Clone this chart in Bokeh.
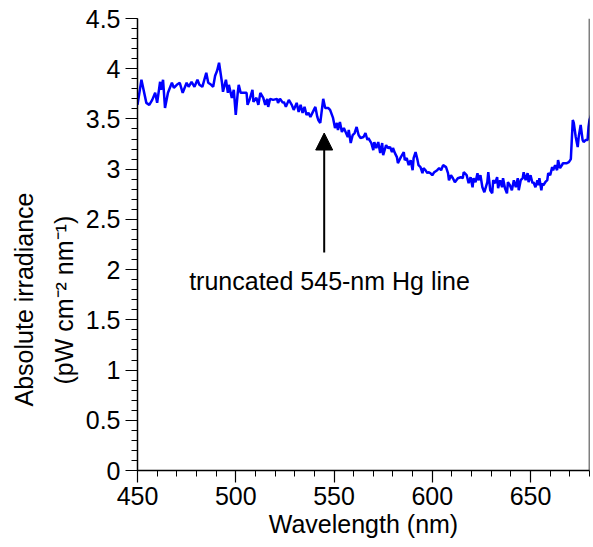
from bokeh.plotting import figure
from bokeh.models import Range1d, Span, Arrow, NormalHead, Label, Title, FixedTicker, ColumnDataSource
from bokeh.embed import file_html
from bokeh.resources import INLINE

# ---- data ----
wavelength = [
    450, 452, 454.5, 456, 457.5, 459, 460, 461.5, 462, 463,
    464, 465.5, 467.5, 468.5, 470, 471.5, 473, 475, 476, 477.5,
    479, 480.5, 481.5, 483, 485, 486, 487.5, 488.5, 489.5, 490.5,
    491.5, 493, 493.5, 495, 496, 496.5, 498, 499, 500, 501,
    501.5, 502.5, 504, 505.5, 506, 507, 508.5, 509, 510.5, 511.5,
    512.5, 514, 515, 516, 516.5, 517.5, 519, 521, 521.5, 522.5,
    524, 524.5, 525.5, 527, 528.5, 529.5, 531, 532, 533, 534,
    535, 536, 537, 538, 539, 540.5, 541.5, 542, 543, 544,
    544.5, 545.5, 547, 548, 549.5, 550.5, 551.5, 552, 553, 554,
    555, 557, 557.5, 558.5, 559.5, 560.5, 561.5, 562.5, 563.5, 565,
    566, 567, 567.5, 569, 570, 570.5, 571.5, 572.5, 573.5, 574.5,
    575, 576.5, 577.5, 578.5, 579.5, 580, 581, 582, 582.5, 584,
    585.5, 586, 587, 588, 589, 590, 590.5, 591.5, 592.5, 593,
    594, 595, 595.5, 596.5, 597.5, 598, 599, 600, 601, 602.5,
    603.5, 604.5, 605.5, 607, 608, 608.5, 609.5, 610.5, 611.5, 613,
    614.5, 615.5, 616, 617.5, 618.5, 619.5, 620.5, 621, 622, 623,
    623.5, 624.5, 625.5, 626.5, 628, 628.5, 629.5, 630.5, 631, 632,
    633, 633.5, 634.5, 635.5, 636, 637, 638, 638.5, 639.5, 640.5,
    641.5, 642.5, 643.5, 644, 645, 646, 646.5, 647.5, 648.5, 649,
    650, 651, 651.5, 652.5, 653.5, 654, 654.5, 655.5, 656, 656.5,
    657.5, 658.5, 659, 660, 661, 661.5, 662.5, 663.5, 664, 665,
    666, 666.5, 668.5, 669.5, 670.5, 671.5, 672, 673, 674, 674.5,
    675.5, 676.5, 677, 678, 679, 679.5, 680, 681,
]
irradiance = [
    3.64, 3.89, 3.66, 3.64, 3.69, 3.76, 3.66, 3.87, 3.79, 3.89,
    3.61, 3.76, 3.86, 3.81, 3.84, 3.86, 3.76, 3.86, 3.82, 3.87,
    3.82, 3.89, 3.84, 3.82, 3.96, 3.86, 3.84, 3.82, 3.93, 3.98,
    4.06, 3.86, 3.77, 3.89, 3.76, 3.84, 3.71, 3.79, 3.54, 3.76,
    3.84, 3.76, 3.76, 3.76, 3.64, 3.69, 3.79, 3.67, 3.71, 3.64,
    3.76, 3.71, 3.64, 3.70, 3.62, 3.70, 3.69, 3.70, 3.66, 3.70,
    3.66, 3.67, 3.62, 3.69, 3.64, 3.59, 3.66, 3.57, 3.64, 3.56,
    3.62, 3.54, 3.56, 3.52, 3.56, 3.62, 3.52, 3.49, 3.46, 3.62,
    3.70, 3.61, 3.61, 3.59, 3.51, 3.41, 3.46, 3.39, 3.47, 3.37,
    3.41, 3.32, 3.39, 3.26, 3.34, 3.36, 3.42, 3.34, 3.31, 3.32,
    3.36, 3.29, 3.31, 3.26, 3.19, 3.27, 3.21, 3.27, 3.16, 3.26,
    3.14, 3.24, 3.21, 3.22, 3.17, 3.21, 3.16, 3.12, 3.06, 3.12,
    3.17, 3.09, 3.11, 3.04, 3.09, 2.99, 3.11, 3.17, 3.09, 3.04,
    3.02, 2.96, 3.01, 2.99, 2.96, 2.97, 2.96, 2.94, 2.97, 2.99,
    3.01, 2.99, 3.04, 3.02, 2.96, 2.89, 2.94, 2.91, 2.87, 2.91,
    2.92, 2.91, 2.97, 2.94, 2.86, 2.92, 2.82, 2.91, 2.87, 2.96,
    2.89, 2.94, 2.82, 2.77, 2.87, 2.97, 2.79, 2.76, 2.89, 2.86,
    2.92, 2.81, 2.89, 2.82, 2.91, 2.81, 2.76, 2.87, 2.84, 2.79,
    2.89, 2.82, 2.91, 2.79, 2.89, 2.91, 2.97, 2.89, 2.96, 2.87,
    2.94, 2.86, 2.87, 2.82, 2.89, 2.84, 2.91, 2.79, 2.86, 2.84,
    2.87, 2.89, 2.96, 2.94, 3.02, 2.99, 3.04, 2.99, 3.09, 3.01,
    3.04, 3.06, 3.06, 3.07, 3.10, 3.49, 3.46, 3.32, 3.22, 3.32,
    3.44, 3.29, 3.27, 3.29, 3.29, 3.42, 3.49, 3.55,
]
x_ticks = [450, 500, 550, 600, 650]
y_ticks = [0, 0.5, 1, 1.5, 2, 2.5, 3, 3.5, 4, 4.5]
y_tick_labels = ["0", "0.5", "1", "1.5", "2", "2.5", "3", "3.5", "4", "4.5"]
hg_line_nm = 545
arrow_from, arrow_to = 2.17, 3.36
note_text = "truncated 545-nm Hg line"

FONT = "Liberation Sans"
FS = "25px"

p = figure(frame_width=452, frame_height=452, output_backend="svg", toolbar_location=None,
           x_range=Range1d(450, 680), y_range=Range1d(0, 4.5),
           min_border_left=137, min_border_right=3, min_border_top=18, min_border_bottom=75,
           background_fill_color="white", border_fill_color="white")
p.outline_line_color = None
p.grid.visible = False

src = ColumnDataSource(dict(x=wavelength, y=irradiance))
p.line("x", "y", source=src, line_color="#0000ff", line_width=2.5)

for ax in (p.xaxis[0], p.yaxis[0]):
    ax.axis_line_color = "black"
    ax.axis_line_width = 1.5
    ax.major_tick_line_color = "black"
    ax.minor_tick_line_color = "black"
    ax.major_tick_line_width = 1.2
    ax.minor_tick_line_width = 1
    ax.major_tick_in = 0
    ax.major_tick_out = 12
    ax.minor_tick_in = 0
    ax.minor_tick_out = 6
    ax.major_label_text_font = FONT
    ax.major_label_text_font_size = FS
    ax.major_label_text_color = "black"
    ax.axis_label_text_font = FONT
    ax.axis_label_text_font_size = FS
    ax.axis_label_text_font_style = "normal"
    ax.axis_label_text_color = "black"

p.xaxis.ticker = FixedTicker(ticks=x_ticks, minor_ticks=list(range(450, 681, 10)))
p.yaxis.ticker = FixedTicker(ticks=y_ticks, minor_ticks=[i / 10 for i in range(0, 46)])
p.yaxis.major_label_overrides = {t: s for t, s in zip(y_ticks, y_tick_labels)}
p.xaxis.axis_label = "Wavelength (nm)"
p.xaxis.major_label_standoff = 4
p.xaxis.axis_label_standoff = 2
p.yaxis.major_label_standoff = 5

p.add_layout(Title(text="(pW cm\u207b\u00b2 nm\u207b\u00b9)", align="left", offset=86, text_font=FONT,
                   text_font_size=FS, text_font_style="normal", text_color="black"), "left")
p.add_layout(Title(text="Absolute irradiance", align="left", offset=64, text_font=FONT,
                   text_font_size=FS, text_font_style="normal", text_color="black"), "left")

p.add_layout(Span(location=680, dimension="height", line_color="black", line_width=1.5))

p.add_layout(Arrow(end=NormalHead(size=17, fill_color="black", line_color="black"),
                   x_start=hg_line_nm, y_start=arrow_from, x_end=hg_line_nm, y_end=arrow_to,
                   line_color="black", line_width=2))
p.add_layout(Label(x=547.7, y=1.886, text=note_text, text_align="center", text_baseline="middle",
                   text_font=FONT, text_font_size=FS, text_color="black"))

open("out.html", "w").write(file_html(p, INLINE))
